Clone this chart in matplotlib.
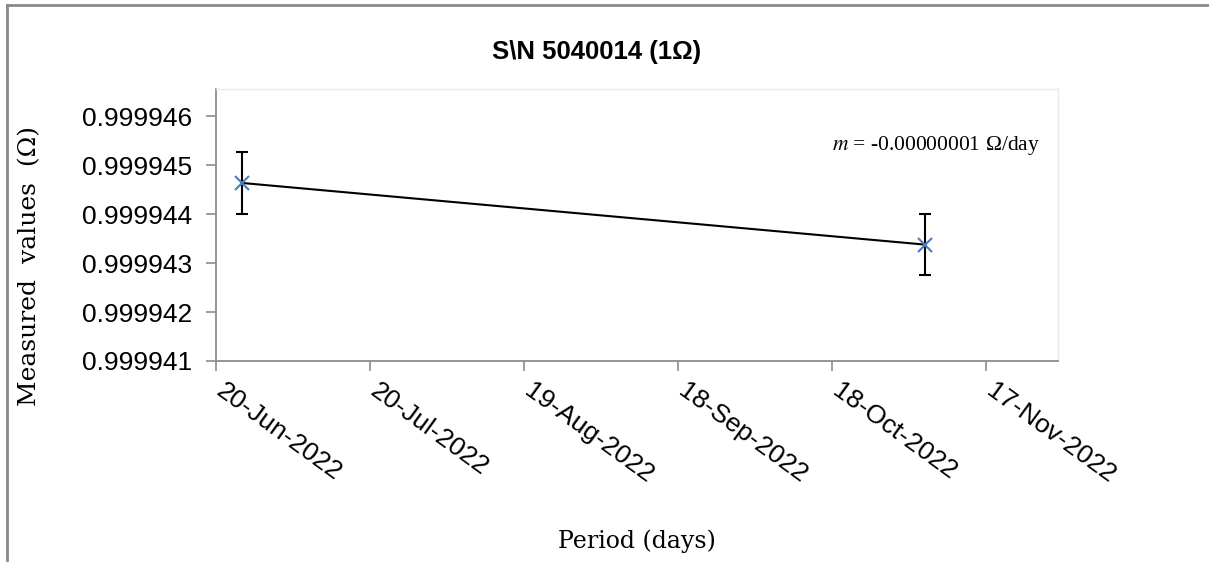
import numpy as np
import pandas as pd
import matplotlib
matplotlib.use("Agg")
import matplotlib.pyplot as plt
import matplotlib.dates as mdates
from matplotlib.lines import Line2D
from matplotlib.transforms import ScaledTranslation

# measurement data for the 1 ohm standard
dates = pd.to_datetime(["2022-06-25", "2022-11-05"])
values = [0.99994464, 0.99994338]
uncert = [0.00000063, 0.00000063]

tick_dates = pd.to_datetime(["2022-06-20", "2022-07-20", "2022-08-19",
                             "2022-09-18", "2022-10-18", "2022-11-17"])
y_ticks = [0.999941, 0.999942, 0.999943, 0.999944, 0.999945, 0.999946]

title = "S\\N 5040014 (1\u03a9)"
slope_text = "$m$ = -0.00000001 \u03a9/day"

plt.rcParams["font.family"] = ["Liberation Sans", "DejaVu Sans"]
plt.rcParams["mathtext.fontset"] = "stix"

fig = plt.figure(figsize=(12.09, 5.62), dpi=100)
ax = fig.add_axes([216/1209, 1 - 361/562, (1058 - 216)/1209, (361 - 89)/562])

ax.errorbar(dates, values, yerr=uncert, fmt="none", ecolor="black",
            elinewidth=1.5, capsize=4.5, capthick=1.5, zorder=2)
ax.plot(dates, values, color="black", lw=1.5, zorder=3)
ax.plot(dates, values, ls="none", marker="x", ms=10, mew=1.5,
        color="#4a7ebb", zorder=4)

ax.set_xlim(pd.Timestamp("2022-06-20"), pd.Timestamp("2022-06-20") + pd.Timedelta(days=164))
ax.set_ylim(0.999941, 0.99994656)

ax.set_yticks(y_ticks)
ax.set_yticklabels([f"{v:.6f}" for v in y_ticks])
ax.set_xticks(tick_dates)
ax.xaxis.set_major_formatter(mdates.DateFormatter("%d-%b-%Y"))

ax.tick_params(axis="both", direction="out", length=7, width=1.2,
               color="#8c8c8c", labelsize=19, labelcolor="black")
ax.tick_params(axis="y", pad=10)
ax.tick_params(axis="x", pad=6)
for lbl in ax.get_xticklabels():
    lbl.set_rotation(-36)
    lbl.set_ha("left")
    lbl.set_va("top")
    lbl.set_rotation_mode("anchor")
    lbl.set_transform(lbl.get_transform() + ScaledTranslation(0.10, 0, fig.dpi_scale_trans))

for side in ["left", "bottom"]:
    ax.spines[side].set_color("#8c8c8c")
    ax.spines[side].set_linewidth(1.3)
for side in ["top", "right"]:
    ax.spines[side].set_color("#e3eaf4")
    ax.spines[side].set_linewidth(1.0)

ax.text(0.979, 0.794, slope_text, transform=ax.transAxes, ha="right", va="center",
        fontsize=15.5, family="Liberation Serif")

fig.text(597/1209, 1 - 52/562, title, ha="center", va="center",
         fontsize=18.5, fontweight="bold")
fig.text(30/1209, 1 - 266/562, "Measured  values  (\u03a9)", rotation=90,
         ha="center", va="center", fontsize=18, family="DejaVu Serif")
fig.text(637/1209, 1 - 541/562, "Period (days)", ha="center", va="center",
         fontsize=17, family="DejaVu Serif")

# outer chart frame (top and left edges)
fig.add_artist(Line2D([7/1209, 1], [1 - 5/562, 1 - 5/562], color="#8a8a8a", lw=2,
                      transform=fig.transFigure))
fig.add_artist(Line2D([7/1209, 7/1209], [0, 1 - 5/562], color="#8a8a8a", lw=2,
                      transform=fig.transFigure))

fig.savefig("out.png", dpi=100)
